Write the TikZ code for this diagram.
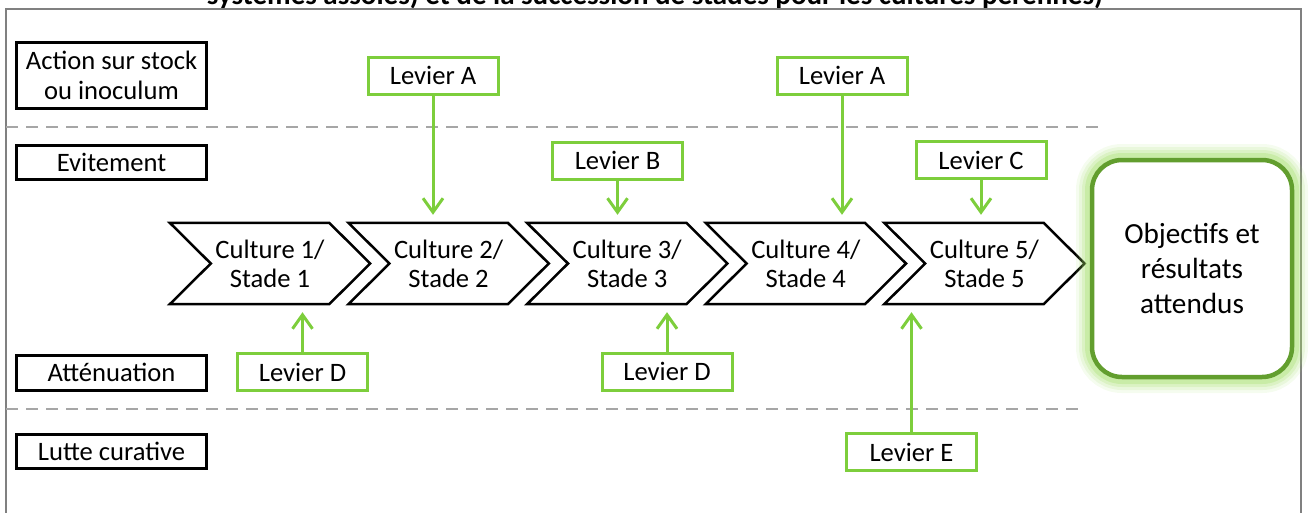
\documentclass[tikz,border=0pt]{standalone}
\usepackage{fontspec}
\setmainfont{Carlito}
\usetikzlibrary{arrows.meta}
\definecolor{levgreen}{RGB}{125,206,60}
\definecolor{objgreen}{RGB}{98,158,46}
\definecolor{glowgreen}{RGB}{160,222,100}
\definecolor{framegray}{RGB}{128,128,128}
\definecolor{dashgray}{RGB}{166,166,166}
\tikzset{
  every node/.style={font=\fontsize{26.6}{30}\selectfont, text=black},
  catbox/.style={draw=black, line width=3pt, minimum width=190pt, inner sep=0pt, align=center},
  lever/.style={draw=levgreen, line width=3pt, minimum width=130pt, minimum height=37pt, inner sep=0pt},
  chevnode/.style={minimum width=200pt, minimum height=81pt, inner sep=0pt, align=center},
  chevline/.style={draw=black, line width=2.5pt, line join=miter},
  arr/.style={draw=levgreen, line width=3pt, -{Straight Barb[length=14pt, width=20pt]}},
  sep/.style={draw=dashgray, line width=2.5pt, dash pattern=on 12pt off 8pt},
  objbox/.style={draw=objgreen, line width=4.5pt, fill=white, rounded corners=30pt,
    minimum width=200pt, minimum height=217pt, inner sep=0pt, align=center,
    font=\fontsize{29.2}{35}\selectfont,
    preaction={draw=glowgreen, line width=32pt, opacity=0.10},
    preaction={draw=glowgreen, line width=26pt, opacity=0.14},
    preaction={draw=glowgreen, line width=20pt, opacity=0.2},
    preaction={draw=glowgreen, line width=14pt, opacity=0.3}},
}
\begin{document}
\begin{tikzpicture}[x=1pt, y=-1pt]
\useasboundingbox (0,0) rectangle (1309,512);
\clip (0,0) rectangle (1309,512);
% title (cut off at top, as in the reference)
\node[anchor=base, font=\fontsize{29}{32}\selectfont\bfseries] (title) at (655,4)
  {systèmes assolés) et de la succession de stades pour les cultures pérennes)};
% frame
\draw[framegray, line width=2pt] (6,9) rectangle (1301,540);
% separators
\coordinate (s1a) at (6,127); \coordinate (s1b) at (1098,127);
\coordinate (s2a) at (6,409); \coordinate (s2b) at (1085,409);
\draw[sep] (s1a) -- (s1b);
\draw[sep] (s2a) -- (s2b);
% categories
\node[catbox, minimum height=66pt] (cat1) at (111.5,75) {Action sur stock\\ou inoculum};
\node[catbox, minimum height=34pt] (cat2) at (111.5,162) {Evitement};
\node[catbox, minimum height=35pt] (cat3) at (111.5,372.5) {Atténuation};
\node[catbox, minimum height=34pt] (cat4) at (111.5,451) {Lutte curative};
% chevrons
\node[chevnode] (c1) at (270,263.5) {Culture 1/\\[-1pt]Stade 1};
\node[chevnode] (c2) at (448.6,263.5) {Culture 2/\\[-1pt]Stade 2};
\node[chevnode] (c3) at (627.2,263.5) {Culture 3/\\[-1pt]Stade 3};
\node[chevnode] (c4) at (805.8,263.5) {Culture 4/\\[-1pt]Stade 4};
\node[chevnode] (c5) at (984.4,263.5) {Culture 5/\\[-1pt]Stade 5};
\foreach \n in {c1,c2,c3,c4,c5}{
  \draw[chevline] (\n.north west) -- ([xshift=-41pt]\n.north east) -- (\n.east)
    -- ([xshift=-41pt]\n.south east) -- (\n.south west) -- ([xshift=41pt]\n.west) -- cycle;
}
% objectives
\node[objbox] (obj) at (1192,268.5) {Objectifs et\\résultats\\attendus};
% levers
\node[lever] (la1) at (433,75.5) {Levier A};
\node[lever] (la2) at (842,75.5) {Levier A};
\node[lever] (lb) at (617.5,160.5) {Levier B};
\node[lever] (lc) at (981,160) {Levier C};
\node[lever] (ld1) at (302.5,372) {Levier D};
\node[lever] (ld2) at (667,371.5) {Levier D};
\node[lever] (le) at (911.5,452) {Levier E};
% arrows
\draw[arr, shorten >=8pt] (la1.south) -- (la1.south |- c2.north);
\draw[arr, shorten >=8pt] (la2.south) -- (la2.south |- c4.north);
\draw[arr, shorten >=8pt] (lb.south) -- (lb.south |- c3.north);
\draw[arr, shorten >=8pt] (lc.south) -- (lc.south |- c5.north);
\draw[arr, shorten >=8pt] (ld1.north) -- (ld1.north |- c1.south);
\draw[arr, shorten >=8pt] (ld2.north) -- (ld2.north |- c3.south);
\draw[arr, shorten >=8pt] (le.north) -- (le.north |- c5.south);
\end{tikzpicture}
\end{document}
